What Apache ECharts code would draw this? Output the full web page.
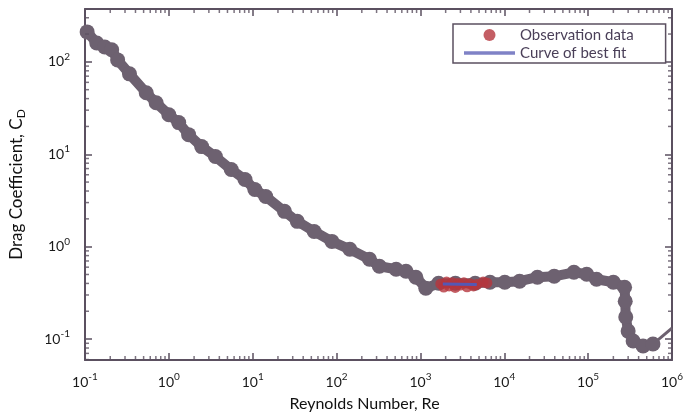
<!DOCTYPE html>
<html>
<head>
<meta charset="utf-8">
<script src="https://cdn.jsdelivr.net/npm/echarts@6/dist/echarts.min.js"></script>
<style>
html,body{margin:0;padding:0;background:#fff;}
#chart{width:686px;height:417px;}
</style>
</head>
<body>
<div id="chart"></div>
<script>
// ---- Data ----
// Standard drag curve (grey band of markers)
const curveRe = [0.106, 0.138, 0.172, 0.208, 0.245, 0.339, 0.537, 0.705, 1.00, 1.31, 1.72, 2.46, 3.59, 5.54, 8.09,
  10.6, 14.3, 23.9, 34.0, 54.0, 88, 144, 247, 324, 513, 673, 883, 1160, 1648, 2612, 4495, 6750, 10140, 15230,
  24840, 39370, 67700, 96200, 126000, 200000, 272000, 277000, 281000, 300000, 344000, 452000, 593000];
const curveCd = [211, 160, 145, 135, 105, 74.2, 46.3, 36.1, 26.8, 22.0, 16.3, 12.1, 9.44, 6.83, 5.33,
  4.16, 3.49, 2.41, 1.88, 1.46, 1.14, 0.936, 0.730, 0.614, 0.569, 0.542, 0.467, 0.355, 0.402, 0.402, 0.402, 0.412, 0.412, 0.423,
  0.467, 0.478, 0.528, 0.503, 0.444, 0.412, 0.364, 0.257, 0.173, 0.122, 0.0952, 0.0841, 0.0883];
// Thin tail of the curve beyond the drag crisis
const tailRe = [593000, 1000000];
const tailCd = [0.0883, 0.1315];
// Observation data (red)
const obsRe = [1750, 1900, 2050, 2200, 2400, 2600, 2800, 3000, 3300, 3600, 3900, 4300, 4700, 5600, 6200];
const obsCd = [0.395, 0.366, 0.414, 0.376, 0.408, 0.362, 0.400, 0.384, 0.406, 0.368, 0.398, 0.376, 0.390, 0.414, 0.405];
// Curve of best fit (blue)
const fitRe = [1850, 4700];
const fitCd = [0.395, 0.390];
// Axis ranges and decade exponents for tick labels
const xRange = [0.1, 1e6];
const yRange = [Math.pow(10, -1.2266), Math.pow(10, 2.572)];
const xDecades = [-1, 0, 1, 2, 3, 4, 5, 6];
const yDecades = [-2, -1, 0, 1, 2];

const zip = (a, b) => a.map((v, i) => [v, b[i]]);
const axisColor = '#5b5060';
const FONT = 'Lato, "Open Sans", sans-serif';

function decadeLabel(v) {
  const e = Math.log10(v);
  const n = Math.round(e);
  if (Math.abs(e - n) > 0.01) return '';
  return '{b|10}{s|' + n + '}';
}
const labelRich = {
  b: {fontSize: 14, fontFamily: FONT, color: '#1a1a1a', lineHeight: 20},
  s: {fontSize: 10, fontFamily: FONT, color: '#1a1a1a', lineHeight: 7, verticalAlign: 'top'}
};

// minor ticks (2..9 in each decade) on the four frame sides
const minorBottom = [], minorTop = [], minorLeft = [], minorRight = [];
xDecades.forEach(n => {
  for (let k = 2; k <= 9; k++) {
    const v = k * Math.pow(10, n);
    if (v > xRange[0] && v < xRange[1]) {
      minorBottom.push([v, yRange[0]]);
      minorTop.push([v, yRange[1]]);
    }
  }
});
yDecades.forEach(n => {
  for (let k = 2; k <= 9; k++) {
    const v = k * Math.pow(10, n);
    if (v > yRange[0] && v < yRange[1]) {
      minorLeft.push([xRange[0], v]);
      minorRight.push([xRange[1], v]);
    }
  }
});
function tickSeries(data, size, offset) {
  return {
    type: 'scatter', data: data, symbol: 'rect', symbolSize: size, symbolOffset: offset,
    itemStyle: {color: axisColor}, silent: true, clip: false, z: 10, animation: false,
    tooltip: {show: false}
  };
}

function xAxisCfg(pos, showLabel) {
  return {
    type: 'log', logBase: 10, min: xRange[0], max: xRange[1], position: pos,
    axisLine: {show: true, lineStyle: {color: axisColor, width: 2}},
    axisTick: {show: true, inside: true, length: 7, lineStyle: {color: axisColor, width: 1.5}},
    axisLabel: {show: showLabel, formatter: decadeLabel, rich: labelRich, margin: 12},
    splitLine: {show: false}, minorTick: {show: false}
  };
}
function yAxisCfg(pos, showLabel) {
  return {
    type: 'log', logBase: 10, min: yRange[0], max: yRange[1], position: pos,
    axisLine: {show: true, lineStyle: {color: axisColor, width: 2}},
    axisTick: {show: true, inside: true, length: 7, lineStyle: {color: axisColor, width: 1.5}},
    axisLabel: {show: showLabel, formatter: decadeLabel, rich: labelRich, margin: 15},
    splitLine: {show: false}, minorTick: {show: false}
  };
}

const xBottom = xAxisCfg('bottom', true);
xBottom.name = 'Reynolds Number, Re';
xBottom.nameLocation = 'middle';
xBottom.nameGap = 36;
xBottom.nameTextStyle = {fontFamily: FONT, fontSize: 16, color: '#111', padding: [0, 28, 0, 0]};
const yLeft = yAxisCfg('left', true);
yLeft.name = '{n|Drag Coefficient, C}{sub|D}';
yLeft.nameLocation = 'middle';
yLeft.nameGap = 58;
yLeft.nameTextStyle = {
  rich: {
    n: {fontFamily: FONT, fontSize: 17, color: '#111', lineHeight: 20},
    sub: {fontFamily: FONT, fontSize: 12, color: '#111', lineHeight: 8, verticalAlign: 'bottom'}
  }
};

const chart = echarts.init(document.getElementById('chart'), null, {renderer: 'canvas'});
chart.setOption({
  animation: false,
  backgroundColor: '#ffffff',
  grid: {left: 85, right: 7, top: 9, bottom: 56},
  xAxis: [xBottom, xAxisCfg('top', false)],
  yAxis: [yLeft, yAxisCfg('right', false)],
  legend: {
    data: [
      {name: 'Observation data', icon: 'circle'},
      {name: 'Curve of best fit', icon: 'path://M0,0 L51,0 L51,3.5 L0,3.5 Z', itemStyle: {color: '#7f82c6'}}
    ],
    orient: 'vertical', left: 453, top: 24,
    itemWidth: 51, itemHeight: 12, itemGap: 2,
    padding: [3, 32, 2, 11],
    borderColor: axisColor, borderWidth: 1.5,
    backgroundColor: '#fff',
    textStyle: {fontFamily: FONT, fontSize: 15, color: '#4a3f58', lineHeight: 16}
  },
  series: [
    {
      name: 'Standard drag curve', type: 'line', data: zip(curveRe, curveCd),
      symbol: 'circle', symbolSize: 15, showSymbol: true, showAllSymbol: true,
      lineStyle: {color: '#6d6170', width: 10}, itemStyle: {color: '#6d6170'}, z: 2
    },
    {
      name: 'Standard drag curve tail', type: 'line', data: zip(tailRe, tailCd),
      symbol: 'none', lineStyle: {color: '#6d6170', width: 3}, z: 2
    },
    {
      name: 'Observation data', type: 'scatter', data: zip(obsRe, obsCd),
      symbol: 'circle', symbolSize: 11, itemStyle: {color: '#b5363d'}, z: 3
    },
    {
      name: 'Curve of best fit', type: 'line', data: zip(fitRe, fitCd),
      symbol: 'none', showSymbol: false, lineStyle: {color: '#5558b4', width: 3}, itemStyle: {color: '#5558b4'}, z: 4
    },
    tickSeries(minorBottom, [1.5, 4], [0, -2]),
    tickSeries(minorTop, [1.5, 4], [0, 2]),
    tickSeries(minorLeft, [4, 1.5], [2, 0]),
    tickSeries(minorRight, [4, 1.5], [-2, 0])
  ]
});
</script>
</body>
</html>
